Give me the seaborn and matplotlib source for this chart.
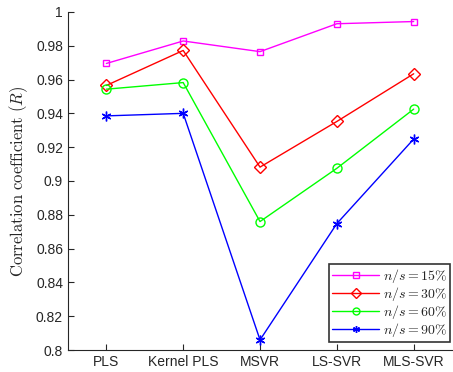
import numpy as np
import pandas as pd
import seaborn as sns
from matplotlib import pyplot as plt

methods = ["PLS", "Kernel PLS", "MSVR", "LS-SVR", "MLS-SVR"]
r_15 = [0.9695, 0.9828, 0.9765, 0.9930, 0.9943]
r_30 = [0.9565, 0.9772, 0.9082, 0.9352, 0.9634]
r_60 = [0.9543, 0.9582, 0.8760, 0.9075, 0.9425]
r_90 = [0.9385, 0.9400, 0.8060, 0.8748, 0.9248]
ratios = ["15", "30", "60", "90"]

series = [r_15, r_30, r_60, r_90]
colors = ["#ff00ff", "#ff0000", "#00ff00", "#0000ff"]
markers = ["s", "D", "o", (6, 2, 0)]
msizes = [5, 6, 6.5, 7]

sns.set_style("ticks")
plt.rcParams["font.family"] = ["Liberation Sans", "DejaVu Sans"]
plt.rcParams["mathtext.fontset"] = "cm"

fig = plt.figure(figsize=(4.53, 3.72), dpi=100)
ax = fig.add_axes([0.150, 0.059, 0.848, 0.909])

x = np.arange(1, len(methods) + 1)
for vals, ratio, c, m, ms in zip(series, ratios, colors, markers, msizes):
    df = pd.DataFrame({"x": x, "r": vals})
    sns.lineplot(data=df, x="x", y="r", ax=ax, color=c, marker=m,
                 markersize=ms, markerfacecolor="none", markeredgecolor=c,
                 markeredgewidth=1.0, linewidth=1.0,
                 label=rf"$n/s = {ratio}\%$")

ax.set_xlim(0.5, 5.5)
ax.set_ylim(0.8, 1.0)
ax.set_xticks(x)
ax.set_xticklabels(methods, fontsize=10)
ax.set_yticks(np.arange(0.8, 1.001, 0.02))
ax.set_yticklabels(["0.8", "0.82", "0.84", "0.86", "0.88", "0.9",
                    "0.92", "0.94", "0.96", "0.98", "1"], fontsize=10)
ax.tick_params(direction="in", length=4, width=0.8)
ax.set_xlabel("")
ax.set_ylabel(r"$\mathrm{Correlation\ coefficient\ (}R\mathrm{)}$", fontsize=12)
sns.despine(ax=ax)

leg = ax.legend(loc="lower right", fontsize=10, handlelength=3.4,
                frameon=True, fancybox=False, borderpad=0.2,
                labelspacing=0.0, handletextpad=0.3, borderaxespad=0.0,
                bbox_to_anchor=(0.995, 0.025))
leg.get_frame().set_edgecolor("black")
leg.get_frame().set_linewidth(1.2)
for h in leg.legend_handles:
    h.set_markersize(5)

fig.savefig("out.png", dpi=100)
